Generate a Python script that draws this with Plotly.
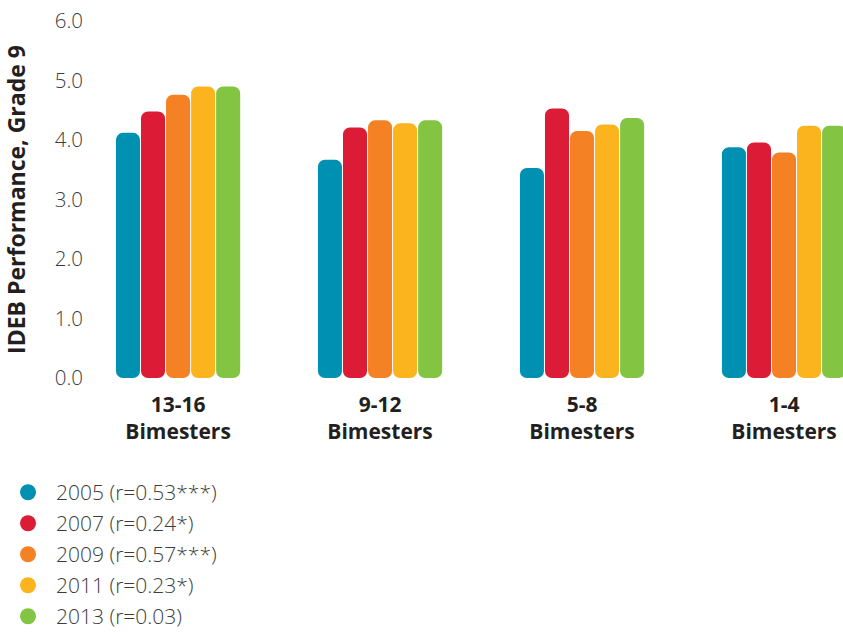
import plotly.graph_objects as go

categories = ["13-16<br>Bimesters", "9-12<br>Bimesters", "5-8<br>Bimesters", "1-4<br>Bimesters"]
years = ["2005 (r=0.53***)", "2007 (r=0.24*)", "2009 (r=0.57***)", "2011 (r=0.23*)", "2013 (r=0.03)"]
v2005 = [4.12, 3.67, 3.53, 3.88]
v2007 = [4.48, 4.21, 4.53, 3.96]
v2009 = [4.76, 4.33, 4.15, 3.79]
v2011 = [4.90, 4.28, 4.26, 4.24]
v2013 = [4.90, 4.33, 4.37, 4.24]
series = [v2005, v2007, v2009, v2011, v2013]
colors = ["#0090b2", "#dc1b36", "#f48124", "#fcb41e", "#83c442"]
y_ticks = [0, 1, 2, 3, 4, 5, 6]

fig = go.Figure()
for i, (name, vals, col) in enumerate(zip(years, series, colors)):
    # explicit base -> plotly rounds both ends of the bar
    fig.add_trace(go.Bar(
        x=categories, y=vals, base=[0] * len(vals),
        offsetgroup=str(i), marker=dict(color=col, line=dict(width=0)),
        showlegend=False, hoverinfo="skip"))
    # legend entry with circle marker
    fig.add_trace(go.Scatter(
        x=[None], y=[None], mode="markers", name=name, legendgroup=str(i),
        marker=dict(color=col, size=20, symbol="circle")))

fig.update_layout(
    width=843, height=632,
    margin=dict(l=90, r=0, t=21, b=253.5, autoexpand=False),
    paper_bgcolor="white", plot_bgcolor="white",
    barmode="group", bargap=0.38, bargroupgap=0.04,
    barcornerradius=7,
    font=dict(family="Open Sans", color="#3c3c3c"),
    xaxis=dict(
        range=[-0.436, 3.292], showgrid=False, zeroline=False, showline=False,
        ticks="", tickfont=dict(size=21, color="#231f20", weight="bold"),
        ticklabelstandoff=12,
    ),
    yaxis=dict(
        range=[0, 6], tickvals=y_ticks, tickformat=".1f",
        showgrid=False, zeroline=False, showline=False, ticks="",
        tickfont=dict(size=20.5, color="#3c3c3c", weight=300),
        ticklabelstandoff=6,
        title=dict(text="IDEB Performance, Grade 9",
                   font=dict(size=23, color="#231f20", weight="bold"), standoff=27),
    ),
    showlegend=True,
    legend=dict(
        xref="paper", yref="paper", x=-0.1195, y=-0.2635,
        xanchor="left", yanchor="top", orientation="v",
        traceorder="grouped", tracegroupgap=0.7, itemwidth=46,
        font=dict(size=21, color="#3c3c3c", weight=300),
        bgcolor="rgba(0,0,0,0)",
    ),
)

fig.write_html("out.html")
